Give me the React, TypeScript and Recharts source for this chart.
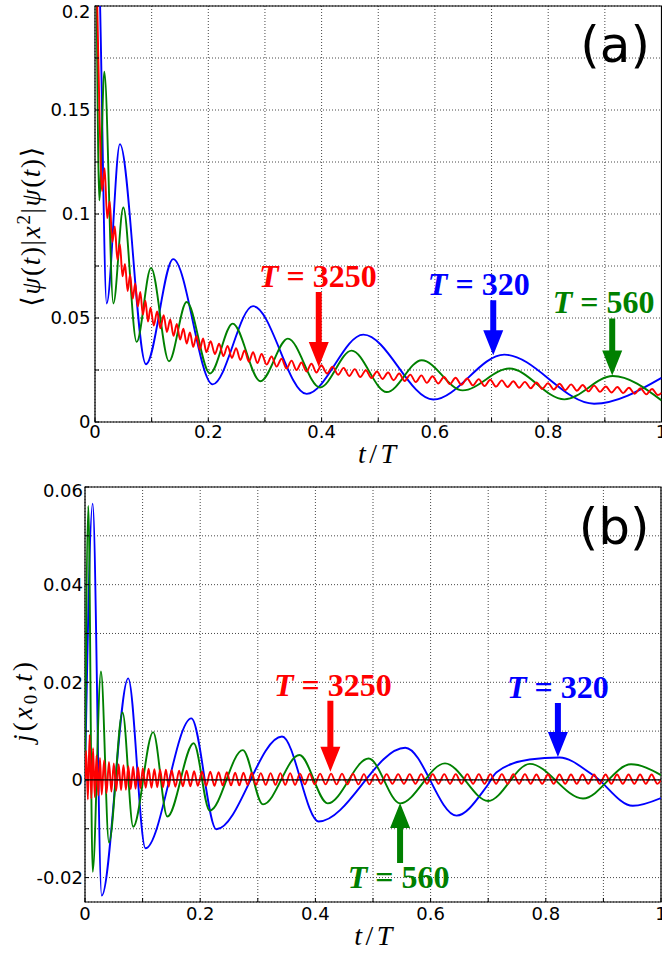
import React from 'react';
import { LineChart, Line, XAxis, YAxis, CartesianGrid, ReferenceArea, ReferenceLine, ReferenceDot, Label } from 'recharts';

// ---------- ticks ----------
const X_TICKS = [0, 0.1, 0.2, 0.3, 0.4, 0.5, 0.6, 0.7, 0.8, 0.9, 1];
const X_TICK_LABELS = ['0', '', '0.2', '', '0.4', '', '0.6', '', '0.8', '', '1'];
const YA_TICKS = [0, 0.025, 0.05, 0.075, 0.1, 0.125, 0.15, 0.175, 0.2];
const YA_TICK_LABELS = ['0', '', '0.05', '', '0.1', '', '0.15', '', '0.2'];
const YB_TICKS = [-0.02, -0.01, 0, 0.01, 0.02, 0.03, 0.04, 0.05, 0.06];
const YB_TICK_LABELS = ['-0.02', '', '0', '', '0.02', '', '0.04', '', '0.06'];
const YA_DOMAIN = [0, 0.2];
const YB_DOMAIN = [-0.025, 0.06];

// ---------- panel (a): <psi|x^2|psi> vs t/T ----------
const BLUE_A = [
  [0, 0.3], [0.009, 0.2], [0.0206, 0.057], [0.044, 0.1336], [0.09, 0.0278], [0.138, 0.0783],
  [0.2077, 0.0181], [0.279, 0.0557], [0.3737, 0.0135], [0.4737, 0.042], [0.5973, 0.0108],
  [0.7225, 0.0324], [0.881, 0.0088], [1.0, 0.0212],
];
const GREEN_A = [
  [0, 0.3], [0.003, 0.2], [0.0076, 0.1066], [0.0165, 0.1684], [0.0324, 0.057], [0.05, 0.1031],
  [0.0735, 0.0385], [0.0989, 0.0741], [0.1306, 0.0292], [0.1618, 0.0577], [0.203, 0.0233],
  [0.243, 0.0473], [0.292, 0.0196], [0.3405, 0.0401], [0.397, 0.0166], [0.453, 0.0343],
  [0.515, 0.0144], [0.5767, 0.0297], [0.649, 0.0152], [0.7314, 0.0257], [0.8285, 0.0109],
  [0.9138, 0.0221], [1.0, 0.0104],
];
const RED_A = [
  [0, 0.27], [0.004, 0.2],
  [0.008, 0.147], [0.0125, 0.111], [0.017, 0.122], [0.0215, 0.098], [0.026, 0.106], [0.0305, 0.0865],
  [0.035, 0.094], [0.0395, 0.078], [0.044, 0.0855], [0.0485, 0.07], [0.053, 0.076], [0.0575, 0.063],
  [0.062, 0.0708], [0.0665, 0.0593], [0.071, 0.0666], [0.0755, 0.0555], [0.08, 0.0625], [0.0845, 0.0516],
  [0.089, 0.0583], [0.0935, 0.0483], [0.098, 0.055],
  [0.1038, 0.0464], [0.1096, 0.0532], [0.1154, 0.0451], [0.1212, 0.0514], [0.127, 0.0433], [0.1328, 0.0493],
  [0.1386, 0.0414], [0.1444, 0.0471], [0.1502, 0.0396], [0.156, 0.0449], [0.1618, 0.0377], [0.1676, 0.043],
  [0.1734, 0.0361], [0.1792, 0.0414], [0.185, 0.0348], [0.1908, 0.0402], [0.1966, 0.0336],
  [0.2041, 0.0388], [0.2116, 0.0327], [0.2191, 0.0376], [0.2266, 0.0317], [0.2341, 0.0366], [0.2416, 0.0308],
  [0.2491, 0.0355], [0.2566, 0.0298], [0.2641, 0.0344], [0.2716, 0.029], [0.2791, 0.0336], [0.2866, 0.0283],
  [0.2941, 0.0327],
  [0.3029, 0.0276], [0.3117, 0.0315], [0.3205, 0.0266], [0.3293, 0.0304], [0.3381, 0.0257], [0.3469, 0.0295],
  [0.3557, 0.025], [0.3645, 0.0286], [0.3733, 0.0243], [0.3821, 0.028], [0.3909, 0.0238], [0.3997, 0.0273],
  [0.4095, 0.0233], [0.4193, 0.0266], [0.4291, 0.0227], [0.4389, 0.026], [0.4487, 0.0221], [0.4585, 0.0254],
  [0.4683, 0.0216], [0.4781, 0.0249], [0.4879, 0.0211], [0.4977, 0.0243], [0.5075, 0.0207], [0.5173, 0.0238],
  [0.5271, 0.0201], [0.5369, 0.0233], [0.5467, 0.0197], [0.5565, 0.0228], [0.5663, 0.0192], [0.5761, 0.0224],
  [0.5859, 0.0188], [0.5957, 0.022],
  [0.6059, 0.0185], [0.6161, 0.0216], [0.6263, 0.0182], [0.6365, 0.0213], [0.6467, 0.0179], [0.6569, 0.0209],
  [0.6671, 0.0176], [0.6773, 0.0206], [0.6875, 0.0173], [0.6977, 0.0203], [0.7079, 0.017], [0.7181, 0.02],
  [0.7283, 0.0168], [0.7385, 0.0196], [0.7487, 0.0165], [0.7589, 0.0193], [0.7691, 0.0162], [0.7793, 0.019],
  [0.7895, 0.0159], [0.7997, 0.0187], [0.8099, 0.0156], [0.8201, 0.0184], [0.8303, 0.0153], [0.8405, 0.0181],
  [0.8507, 0.015], [0.8609, 0.0178], [0.8711, 0.0147], [0.8813, 0.0175], [0.8915, 0.0145], [0.9017, 0.0171],
  [0.9119, 0.0142], [0.9221, 0.0168], [0.9323, 0.0139], [0.9425, 0.0165], [0.9527, 0.0136], [0.9629, 0.0162],
  [0.9731, 0.0133], [0.9833, 0.0159], [0.9935, 0.013], [1.0, 0.014],
];

// ---------- panel (b): j(x0,t) vs t/T ----------
const BLUE_B = [
  [0, 0], [0.0133, 0.0566], [0.029, -0.0237], [0.075, 0.0208], [0.105, -0.014], [0.1847, 0.0126],
  [0.228, -0.0101], [0.342, 0.0089], [0.4057, -0.0085], [0.556, 0.0066], [0.645, -0.0073],
  [0.697, -0.0014], [0.7146, 0.0016], [0.772, 0.0042], [0.824, 0.0046], [0.882, 0.001],
  [0.951, -0.0053], [1.0, -0.0037],
];
const GREEN_B = [
  [0, 0], [0.0058, 0.0561], [0.0133, -0.0188], [0.0277, 0.0222], [0.0416, -0.0128], [0.0652, 0.0138],
  [0.0837, -0.0096], [0.1183, 0.0098], [0.143, -0.0075], [0.1887, 0.0075], [0.2165, -0.0063],
  [0.274, 0.0061], [0.309, -0.005], [0.3723, 0.0051], [0.4213, -0.0048], [0.4924, 0.0044],
  [0.547, -0.0048], [0.625, 0.0034], [0.7, -0.0043], [0.7723, 0.0033], [0.8646, -0.0038],
  [0.948, 0.0032], [1.0, 0.001],
];
const RED_B = [
  [0, 0], [0.002, 0.006], [0.005, -0.004], [0.008, 0.0092], [0.011, -0.0038], [0.014, 0.0065],
  [0.017, -0.0035], [0.02, 0.005], [0.023, -0.0032], [0.026, 0.0045], [0.029, -0.003],
  [0.0332, 0.004], [0.0374, -0.0027], [0.0416, 0.0037], [0.0458, -0.0024], [0.05, 0.0034],
  [0.0542, -0.0022], [0.0584, 0.0032], [0.0626, -0.0021], [0.0668, 0.003], [0.071, -0.002],
  [0.0752, 0.0028], [0.0794, -0.0019], [0.0836, 0.0027], [0.0878, -0.0018], [0.092, 0.0026],
  [0.0962, -0.0017], [0.1004, 0.0024],
  [0.1054, -0.0016], [0.1104, 0.0023], [0.1154, -0.0016], [0.1204, 0.0022], [0.1254, -0.0015],
  [0.1304, 0.0021], [0.1354, -0.0015], [0.1404, 0.0021], [0.1454, -0.0014], [0.1504, 0.002],
  [0.1569, -0.0014], [0.1634, 0.0019], [0.1699, -0.0013], [0.1764, 0.0019], [0.1829, -0.0013],
  [0.1894, 0.0018], [0.1959, -0.0012],
  [0.2031, 0.0017], [0.2103, -0.0012], [0.2175, 0.0017], [0.2247, -0.0012], [0.2319, 0.0016],
  [0.2391, -0.0011], [0.2463, 0.0016], [0.2535, -0.0011], [0.2607, 0.0015], [0.2679, -0.0011],
  [0.2751, 0.0015], [0.2823, -0.001], [0.2895, 0.0015], [0.2967, -0.001],
  [0.3052, 0.0014], [0.3137, -0.001], [0.3222, 0.0014], [0.3307, -0.001], [0.3392, 0.0014],
  [0.3477, -0.001], [0.3562, 0.0014], [0.3647, -0.001], [0.3732, 0.0013], [0.3817, -0.0009],
  [0.3902, 0.0013], [0.3987, -0.0009],
  [0.4082, 0.0013], [0.4177, -0.0009], [0.4272, 0.0013], [0.4367, -0.0009], [0.4462, 0.0013],
  [0.4557, -0.0009], [0.4652, 0.0013], [0.4747, -0.0009], [0.4842, 0.0012], [0.4937, -0.0009],
  [0.5037, 0.0012], [0.5137, -0.0008], [0.5237, 0.0012], [0.5337, -0.0008], [0.5437, 0.0012],
  [0.5537, -0.0008], [0.5637, 0.0012], [0.5737, -0.0008], [0.5837, 0.0012], [0.5937, -0.0008],
  [0.6037, 0.0012], [0.6137, -0.0008], [0.6237, 0.0012], [0.6337, -0.0008], [0.6437, 0.0012],
  [0.6537, -0.0008], [0.6637, 0.0012], [0.6737, -0.0008], [0.6837, 0.0012], [0.6937, -0.0008],
  [0.7037, 0.0012], [0.7137, -0.0008], [0.7237, 0.0012], [0.7337, -0.0008], [0.7437, 0.0012],
  [0.7537, -0.0008], [0.7637, 0.0012], [0.7737, -0.0008], [0.7837, 0.0011], [0.7937, -0.0008],
  [0.8037, 0.0011], [0.8137, -0.0008], [0.8237, 0.0011], [0.8337, -0.0008], [0.8437, 0.0011],
  [0.8537, -0.0008], [0.8637, 0.0011], [0.8737, -0.0008], [0.8837, 0.0011], [0.8937, -0.0008],
  [0.9037, 0.0011], [0.9137, -0.0008], [0.9237, 0.0011], [0.9337, -0.0008], [0.9437, 0.0011],
  [0.9537, -0.0008], [0.9637, 0.0011], [0.9737, -0.0008], [0.9837, 0.0011], [0.9937, -0.0008],
  [1.0, 0],
];

// ---------- annotations (arrow tip in data coords) ----------
const ANNOT_A = [
  { t: 0.395, v: 0.0265, num: '3250', series: 'red' },
  { t: 0.703, v: 0.0321, num: '320', series: 'blue' },
  { t: 0.913, v: 0.0224, num: '560', series: 'green' },
];
const ANNOT_B = [
  { t: 0.426, v: 0.0017, num: '3250', series: 'red' },
  { t: 0.821, v: 0.0047, num: '320', series: 'blue' },
  { t: 0.547, v: -0.0047, num: '560', series: 'green' },
];

// ---------- styles ----------
const COLORS: Record<string, string> = { blue: '#0000ff', green: '#008000', red: '#ff0000' };
const ANNOT_STYLE_A: Record<string, { len: number; dir: number; dx: number }> = {
  red: { len: 75, dir: 1, dx: -1 },
  blue: { len: 55, dir: 1, dx: -14.5 },
  green: { len: 57, dir: 1, dx: -8.5 },
};
const ANNOT_STYLE_B: Record<string, { len: number; dir: number; dx: number }> = {
  red: { len: 71, dir: 1, dx: 2.5 },
  blue: { len: 54, dir: 1, dx: 0 },
  green: { len: 60, dir: -1, dx: -1.5 },
};
const TICK_FONT = { fontFamily: 'DejaVu Sans, sans-serif', fontSize: 18, fill: '#000' };
const MATH_FONT = 'Liberation Serif, DejaVu Serif, serif';

const toPts = (arr: number[][]) => arr.map(([t, v]) => ({ t, v }));
const fmt = (ticks: number[], labels: string[]) => (val: number) => {
  const i = ticks.findIndex((x) => Math.abs(x - val) < 1e-9);
  return i >= 0 ? labels[i] : '';
};

// y tick label; the top-most label sits slightly lower, as in the reference
const YTick = (props: any) => {
  const { x, y, payload, ticks, labels, topShift } = props;
  const i = ticks.findIndex((v: number) => Math.abs(v - payload.value) < 1e-9);
  const label = i >= 0 ? labels[i] : '';
  if (!label) return null;
  const shift = i === ticks.length - 1 ? topShift : 0;
  return (
    <text x={x} y={y + shift} dy="0.36em" textAnchor="end" {...TICK_FONT}>
      {label}
    </text>
  );
};

const ArrowMark = (props: any) => {
  const { cx, cy, color, len, dir, dx, num } = props;
  if (cx == null || cy == null) return null;
  const head = 25;
  const hw = 10;
  const sw = 3;
  const tailY = cy - dir * len;
  const baseY = cy - dir * head;
  const pts = [
    [cx - sw, tailY], [cx + sw, tailY], [cx + sw, baseY], [cx + hw, baseY], [cx, cy],
    [cx - hw, baseY], [cx - sw, baseY],
  ].map((p) => p.join(',')).join(' ');
  const textY = dir > 0 ? tailY - 5 : tailY + 25;
  return (
    <g>
      <polygon points={pts} fill={color} stroke="none" />
      <text x={cx + dx} y={textY} textAnchor="middle" fontFamily={MATH_FONT} fontWeight="bold" fontSize={32} fill={color}>
        <tspan fontStyle="italic">T</tspan>
        <tspan>{' = ' + num}</tspan>
      </text>
    </g>
  );
};

const PanelTag = (props: any) => {
  const { cx, cy, tag, dy } = props;
  if (cx == null || cy == null) return null;
  return (
    <text x={cx - 11.5} y={cy + dy} textAnchor="end" fontFamily="DejaVu Sans, sans-serif" fontSize={50} fill="#000">
      {tag}
    </text>
  );
};

const XTitle = ({ x, y }: { x: number; y: number }) => (
  <text x={x} y={y} textAnchor="middle" fontFamily={MATH_FONT} fontSize={28} fill="#000" textLength={38} lengthAdjust="spacing">
    <tspan fontStyle="italic">t</tspan>
    <tspan>/</tspan>
    <tspan fontStyle="italic">T</tspan>
  </text>
);

const YTitleA = () => (
  <text transform="translate(40,226.7) rotate(-90)" textAnchor="middle" fontFamily={MATH_FONT} fontSize={27} fill="#000" textLength={160} lengthAdjust="spacing">
    <tspan>⟨</tspan>
    <tspan fontStyle="italic">ψ</tspan>
    <tspan>(</tspan>
    <tspan fontStyle="italic">t</tspan>
    <tspan>)|</tspan>
    <tspan fontStyle="italic">x</tspan>
    <tspan dy={-10} fontSize={19}>2</tspan>
    <tspan dy={10}>|</tspan>
    <tspan fontStyle="italic">ψ</tspan>
    <tspan>(</tspan>
    <tspan fontStyle="italic">t</tspan>
    <tspan>)⟩</tspan>
  </text>
);

const YTitleB = () => (
  <text transform="translate(32,232) rotate(-90)" textAnchor="middle" fontFamily={MATH_FONT} fontSize={27} fill="#000" textLength={80} lengthAdjust="spacing">
    <tspan fontStyle="italic">j</tspan>
    <tspan>(</tspan>
    <tspan fontStyle="italic">x</tspan>
    <tspan dy={5} fontSize={19}>0</tspan>
    <tspan dy={-5}>,</tspan>
    <tspan fontStyle="italic">t</tspan>
    <tspan>)</tspan>
  </text>
);

const lineProps = { type: 'monotone' as const, dataKey: 'v', dot: false, isAnimationActive: false, strokeWidth: 1.9 };
const GRID = { stroke: '#333', strokeDasharray: '1 2', strokeWidth: 0.9 };

export default function App() {
  return (
    <div style={{ position: 'absolute', left: 0, top: 0, width: 662, height: 953, background: '#fff' }}>
      <div style={{ position: 'absolute', left: 0, top: 0 }}>
        <LineChart width={662} height={470} margin={{ top: 6, right: 0.5, left: 35, bottom: 18 }}>
          <CartesianGrid {...GRID} />
          <XAxis
            dataKey="t" type="number" domain={[0, 1]} ticks={X_TICKS} tickFormatter={fmt(X_TICKS, X_TICK_LABELS)}
            height={30} axisLine={false} tickSize={-4} tickMargin={7} tickLine={{ stroke: '#000' }} tick={TICK_FONT}
            interval={0} allowDataOverflow
          >
            <Label content={() => <XTitle x={377} y={463} />} />
          </XAxis>
          <YAxis
            type="number" domain={YA_DOMAIN} ticks={YA_TICKS}
            width={60} axisLine={false} tickSize={-4} tickMargin={8.5} tickLine={{ stroke: '#000' }}
            tick={(p: any) => <YTick {...p} ticks={YA_TICKS} labels={YA_TICK_LABELS} topShift={6} />}
            interval={0} allowDataOverflow
          >
            <Label content={() => <YTitleA />} />
          </YAxis>
          <ReferenceArea x1={0} x2={1} y1={YA_DOMAIN[0]} y2={YA_DOMAIN[1]} fill="none" fillOpacity={0} stroke="#000" strokeWidth={1.2} ifOverflow="visible" />
          <Line {...lineProps} data={toPts(BLUE_A)} stroke={COLORS.blue} />
          <Line {...lineProps} data={toPts(GREEN_A)} stroke={COLORS.green} />
          <Line {...lineProps} data={toPts(RED_A)} stroke={COLORS.red} />
          {ANNOT_A.map((a) => (
            <ReferenceDot
              key={a.series} x={a.t} y={a.v} r={0} ifOverflow="visible"
              shape={(p: any) => <ArrowMark {...p} color={COLORS[a.series]} num={a.num} {...ANNOT_STYLE_A[a.series]} />}
            />
          ))}
          <ReferenceDot x={1} y={YA_DOMAIN[1]} r={0} ifOverflow="visible" shape={(p: any) => <PanelTag {...p} tag="(a)" dy={55.5} />} />
        </LineChart>
      </div>
      <div style={{ position: 'absolute', left: 0, top: 470 }}>
        <LineChart width={662} height={483} margin={{ top: 17, right: 1, left: 25, bottom: 21 }}>
          <CartesianGrid {...GRID} />
          <XAxis
            dataKey="t" type="number" domain={[0, 1]} ticks={X_TICKS} tickFormatter={fmt(X_TICKS, X_TICK_LABELS)}
            height={30} axisLine={false} tickSize={-4} tickMargin={9} tickLine={{ stroke: '#000' }} tick={TICK_FONT}
            interval={0} allowDataOverflow
          >
            <Label content={() => <XTitle x={373.3} y={475} />} />
          </XAxis>
          <YAxis
            type="number" domain={YB_DOMAIN} ticks={YB_TICKS}
            width={60} axisLine={false} tickSize={-4} tickMargin={6} tickLine={{ stroke: '#000' }}
            tick={(p: any) => <YTick {...p} ticks={YB_TICKS} labels={YB_TICK_LABELS} topShift={4} />}
            interval={0} allowDataOverflow
          >
            <Label content={() => <YTitleB />} />
          </YAxis>
          <ReferenceArea x1={0} x2={1} y1={YB_DOMAIN[0]} y2={YB_DOMAIN[1]} fill="none" fillOpacity={0} stroke="#000" strokeWidth={1.2} ifOverflow="visible" />
          <Line {...lineProps} data={toPts(BLUE_B)} stroke={COLORS.blue} />
          <Line {...lineProps} data={toPts(GREEN_B)} stroke={COLORS.green} />
          <Line {...lineProps} data={toPts(RED_B)} stroke={COLORS.red} />
          <ReferenceLine y={0} stroke="#000" strokeWidth={1.3} />
          {ANNOT_B.map((a) => (
            <ReferenceDot
              key={a.series} x={a.t} y={a.v} r={0} ifOverflow="visible"
              shape={(p: any) => <ArrowMark {...p} color={COLORS[a.series]} num={a.num} {...ANNOT_STYLE_B[a.series]} />}
            />
          ))}
          <ReferenceDot x={1} y={YB_DOMAIN[1]} r={0} ifOverflow="visible" shape={(p: any) => <PanelTag {...p} tag="(b)" dy={56.5} />} />
        </LineChart>
      </div>
    </div>
  );
}
